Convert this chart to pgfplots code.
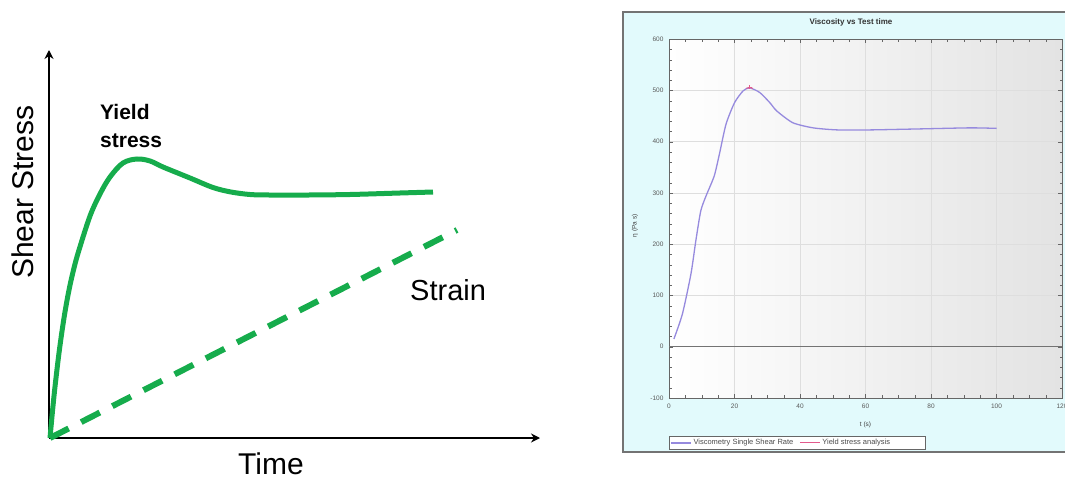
\documentclass[border=0pt]{standalone}
\usepackage{fontspec}
\setmainfont{Liberation Sans}
\usepackage{pgfplots}
\pgfplotsset{compat=1.18}
\usetikzlibrary{arrows.meta}
\definecolor{sgreen}{RGB}{22,172,76}
\definecolor{cyanbg}{RGB}{226,250,252}
\definecolor{vpurple}{RGB}{150,138,222}
\definecolor{ypink}{RGB}{226,90,140}
\begin{document}
\begin{tikzpicture}[x=1pt,y=1pt]
\path[use as bounding box] (0,0) rectangle (1065,480);
% ---------------- left schematic ----------------
\begin{axis}[at={(49pt,42pt)}, anchor=south west, scale only axis,
  width=491pt, height=388pt, xmin=0, xmax=491, ymin=0, ymax=388,
  axis lines=left, ticks=none, clip=false,
  axis line style={line width=2.5pt, black},
  x axis line style={-{Stealth[length=9pt,width=9pt]}},
  y axis line style={-{Stealth[length=9pt,width=9pt]}}]
\addplot[sgreen, line width=5pt, smooth, tension=0.55] coordinates {
 (1,0) (5,42) (10,85) (15,120) (20,148) (25,170) (30,188) (41,222) (51,244)
 (61,261) (74,275) (88,279) (101,277) (114,271) (141,260) (164,250.5)
 (182,246) (201,243.5) (220,243) (260,243) (301,243.5) (351,245) (384,246)};
\addplot[sgreen, line width=6pt, dash pattern=on 21pt off 14pt] coordinates {
 (1,0) (408,208)};
\end{axis}
\node[rotate=90, inner sep=0, font=\fontsize{30}{30}\selectfont] at (23,288) {Shear Stress};
\node[anchor=base, inner sep=0, font=\fontsize{30}{30}\selectfont] at (271,6) {Time};
\node[anchor=base west, inner sep=0, font=\fontsize{29}{29}\selectfont] at (410,180) {Strain};
\node[anchor=base west, inner sep=0, font=\bfseries\fontsize{21}{21}\selectfont] at (100,360) {Yield};
\node[anchor=base west, inner sep=0, font=\bfseries\fontsize{21}{21}\selectfont] at (100,332) {stress};
% ---------------- right instrument chart ----------------
\fill[cyanbg] (623,28) rectangle (1066,468);
\draw[black!55, line width=1.2pt] (1066,28) -- (623,28) -- (623,468) -- (1066,468);
\node[font=\bfseries\fontsize{8}{8}\selectfont, text=black!80] at (851,458) {Viscosity vs Test time};
\begin{axis}[at={(669pt,82.1pt)}, anchor=south west, scale only axis,
  width=393pt, height=358.7pt,
  xmin=0, xmax=120, ymin=-100, ymax=600,
  xtick={0,20,...,120}, ytick={-100,0,...,600},
  minor x tick num=3, minor y tick num=4,
  grid=major, major grid style={black!13},
  extra y ticks={0}, extra y tick labels={},
  extra y tick style={grid=major, major grid style={black!55, line width=0.7pt}},
  axis line style={black!60},
  tick style={black!60},
  major tick length=4pt, minor tick length=2.5pt,
  axis background/.style={shade, left color=white, right color=black!11},
  /pgf/number format/assume math mode=true,
  tick label style={font=\fontsize{6.5}{7}\selectfont, text=black!65},
  xticklabel style={yshift=-3pt},
  yticklabel style={xshift=-2pt},
  xlabel={t (s)}, ylabel={η (Pa s)},
  every axis x label/.style={at={(axis description cs:0.5,0)}, anchor=center, yshift=-27pt,
     font=\fontsize{6.5}{7}\selectfont, text=black!75},
  every axis y label/.style={at={(axis description cs:-0.0865,0.48)}, anchor=center, rotate=90,
     font=\fontsize{6.5}{7}\selectfont, text=black!75},
  legend columns=2,
  legend style={at={(0.0,-0.107)}, anchor=north west, draw=black!60, fill=white,
     font=\fontsize{7.5}{7.5}\selectfont, text=black!70, inner sep=1pt,
     /tikz/every even column/.append style={column sep=4pt}},
  legend image code/.code={\draw[#1] (0pt,0pt) -- (20pt,0pt);}]
\addplot[vpurple, line width=1.3pt, smooth, tension=0.4] coordinates {
 (1.5,15) (4.1,64) (6.7,142) (8.2,207) (9.7,265) (11.3,294) (13.8,333)
 (15.4,376) (17.4,434) (20,476) (22.6,499) (24.6,505) (27.7,496)
 (30.8,476) (32.9,460) (37.8,437) (44,427) (51.4,423) (61.5,423)
 (77,425) (92,427) (100,426)};
\addlegendentry{Viscometry Single Shear Rate}
\addplot[ypink, line width=1pt, mark=+, mark size=2pt, mark indices={2}] coordinates {
 (23.6,504) (24.6,506) (25.6,504)};
\addlegendentry{\makebox[100pt][l]{Yield stress analysis}}
\end{axis}
\end{tikzpicture}
\end{document}
